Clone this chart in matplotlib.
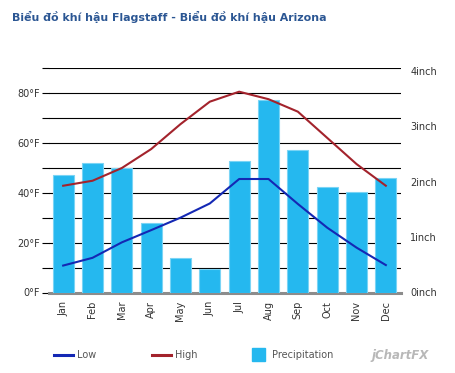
import matplotlib
matplotlib.use("Agg")
import matplotlib.pyplot as plt
from matplotlib.lines import Line2D
from matplotlib.patches import Rectangle
import numpy as np

months = ["Jan", "Feb", "Mar", "Apr", "May", "Jun", "Jul", "Aug", "Sep", "Oct", "Nov", "Dec"]
low_f = [10.8, 13.9, 20.1, 25.0, 30.0, 35.7, 45.5, 45.5, 35.5, 26.0, 18.0, 11.0]
high_f = [42.8, 44.8, 49.9, 57.5, 67.5, 76.5, 80.5, 77.5, 72.5, 62.0, 51.5, 42.8]
precip_in = [2.12, 2.33, 2.24, 1.26, 0.62, 0.42, 2.37, 3.48, 2.57, 1.90, 1.82, 2.06]
left_ticks = [0, 20, 40, 60, 80]
right_ticks = [0, 1, 2, 3, 4]

title = "Biểu đồ khí hậu Flagstaff - Biểu đồ khí hậu Arizona"

W, H = 455, 373
fig = plt.figure(figsize=(W / 100, H / 100), dpi=100)
plt.rcParams['font.family'] = ['DejaVu Sans']

def fx(px):
    return px / W

def fy(py):
    return 1 - py / H

left, right, top, bottom = 48.5, 400.5, 68, 292.5
ax = fig.add_axes([fx(left), fy(bottom), fx(right - left), fy(top) - fy(bottom)])
x = np.arange(len(months))

# left temperature axis with gridlines
ax.set_xlim(-0.5, len(months) - 0.5)
ax.set_ylim(0, 90)
ax.set_yticks(np.arange(0, 91, 10))
ax.set_yticklabels([f"{v}°F" if v in left_ticks else "" for v in np.arange(0, 91, 10)],
                   fontsize=7, color="#333333")
ax.yaxis.grid(True, color="black", linewidth=0.8)
ax.set_axisbelow(True)
ax.tick_params(axis="y", length=5, width=0.8, color="black", pad=1)
ax.set_xticks(x)
ax.set_xticklabels(months, rotation=90, fontsize=7, color="#333333")
ax.tick_params(axis="x", length=0, pad=6)
for s in ["top", "right", "left"]:
    ax.spines[s].set_visible(False)
ax.spines["bottom"].set_color("#8c8c8c")
ax.spines["bottom"].set_linewidth(2.2)
ax.spines["bottom"].set_zorder(5)

# precipitation bars on right axis
ax2 = ax.twinx()
ax2.set_ylim(0, 4.05)
ax2.bar(x, precip_in, width=0.72, color="#25B8EF", edgecolor="#7AD4F5", linewidth=0.8)
ax2.set_yticks(right_ticks)
ax2.set_yticklabels([f"{v}inch" for v in right_ticks], fontsize=7, color="#333333")
ax2.tick_params(axis="y", length=0, pad=7)
for s in ax2.spines.values():
    s.set_visible(False)

# temperature lines on top
ax3 = ax.twinx()
ax3.set_ylim(0, 90)
ax3.plot(x, high_f, color="#A3232C", linewidth=1.5)
ax3.plot(x, low_f, color="#1428B4", linewidth=1.5)
ax3.set_yticks([])
for s in ax3.spines.values():
    s.set_visible(False)

fig.text(fx(12), fy(17), title, fontsize=7.9, fontweight="bold", color="#2B5693",
         va="center", ha="left")

# legend
ly = fy(355)
fig.add_artist(Line2D([fx(54), fx(73)], [ly, ly], color="#1428B4", linewidth=2.2))
fig.text(fx(77), ly, "Low", fontsize=7, color="#555555", va="center")
fig.add_artist(Line2D([fx(152), fx(171)], [ly, ly], color="#A3232C", linewidth=2.2))
fig.text(fx(175), ly, "High", fontsize=7, color="#555555", va="center")
fig.add_artist(Rectangle((fx(252), fy(361)), fx(13), fy(348) - fy(361), color="#25B8EF"))
fig.text(fx(272), ly, "Precipitation", fontsize=7, color="#555555", va="center")
fig.text(fx(372), ly, "jChartFX", fontsize=8.5, color="#b8b8b8", va="center",
         style="italic", fontweight="bold")

fig.savefig("out.png", dpi=100)
